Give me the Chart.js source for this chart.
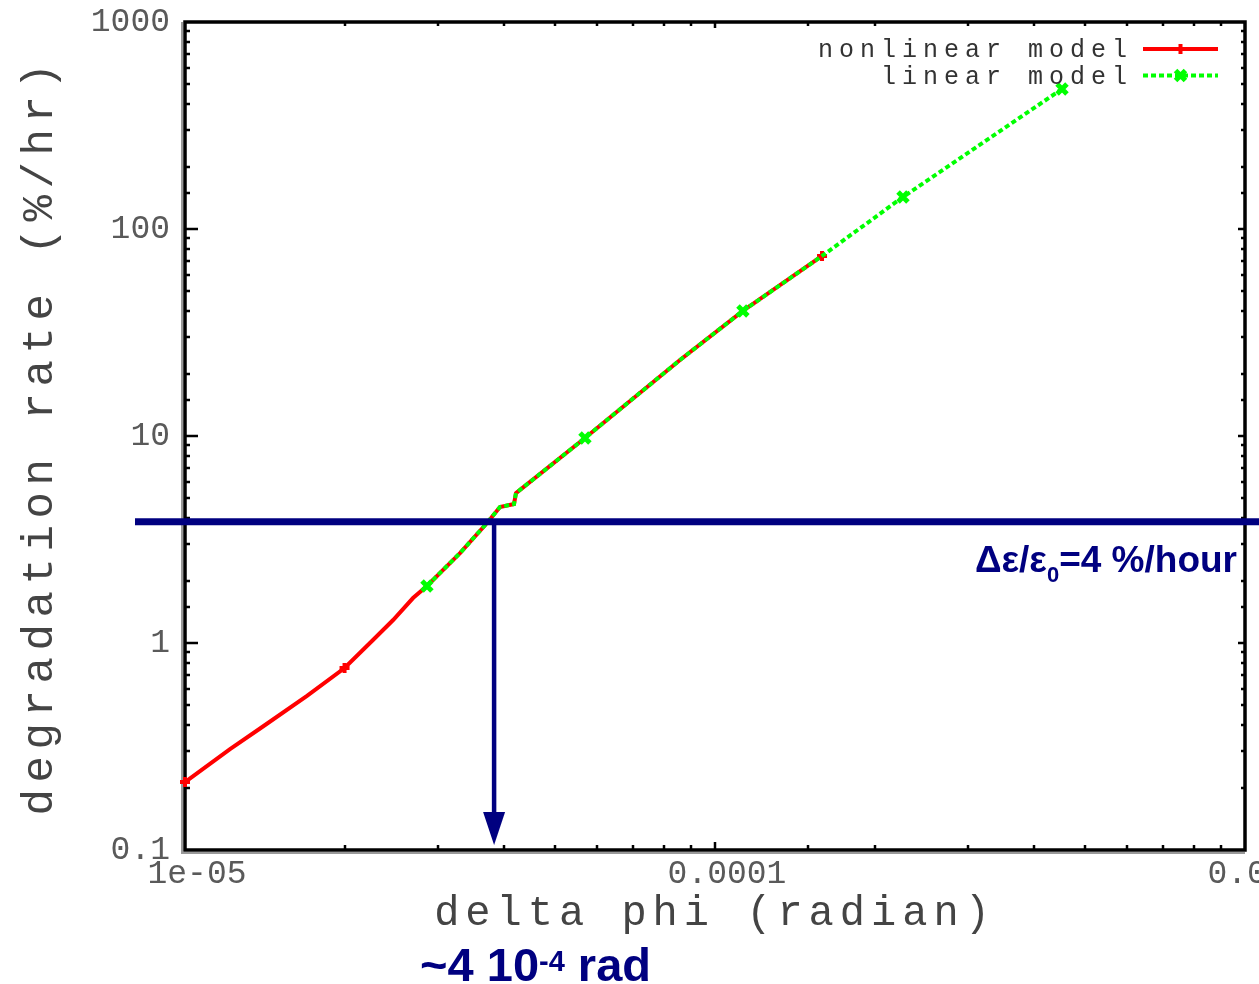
<!DOCTYPE html>
<html>
<head>
<meta charset="utf-8">
<script src="https://cdn.jsdelivr.net/npm/chart.js@4/dist/chart.umd.min.js"></script>
<style>
  html, body { margin: 0; padding: 0; background: #fff; }
  #wrap { width: 1259px; height: 984px; }
</style>
</head>
<body>
<div id="wrap"><canvas id="c" width="1259" height="984"></canvas></div>
<script>
// ---------- data ----------
const NONLINEAR_LABEL = 'nonlinear model';
const NONLINEAR_X = [1.0e-5, 1.216e-5, 1.403e-5, 1.699e-5, 2.0e-5, 2.263e-5, 2.47e-5, 2.693e-5, 2.861e-5,
                     3.303e-5, 3.714e-5, 3.929e-5, 4.176e-5, 4.212e-5, 5.684e-5, 8.59e-5, 1.129e-4, 1.592e-4];
const NONLINEAR_Y = [0.213, 0.307, 0.395, 0.555, 0.757, 1.034, 1.291, 1.649, 1.886,
                     2.72, 3.80, 4.54, 4.69, 5.30, 9.78, 23.3, 40.2, 74.1];
const NONLINEAR_MARKER_X = [1.0e-5, 2.0e-5, 1.592e-4];

const LINEAR_LABEL = 'linear model';
const LINEAR_X = [2.861e-5, 3.303e-5, 3.714e-5, 3.929e-5, 4.176e-5, 4.212e-5, 5.684e-5, 8.59e-5, 1.129e-4,
                  1.592e-4, 2.263e-4, 4.516e-4];
const LINEAR_Y = [1.886, 2.72, 3.80, 4.54, 4.69, 5.30, 9.78, 23.3, 40.2, 74.1, 142.8, 474.6];
const LINEAR_MARKER_X = [2.861e-5, 5.684e-5, 1.129e-4, 2.263e-4, 4.516e-4];

const X_TICK_VALUES = [1e-5, 1e-4, 1e-3];
const X_TICK_LABELS = ['1e-05', '0.0001', '0.001'];
const Y_TICK_VALUES = [0.1, 1, 10, 100, 1000];
const Y_TICK_LABELS = ['0.1', '1', '10', '100', '1000'];

const X_TITLE = 'delta phi (radian)';
const Y_TITLE = 'degradation rate (%/hr)';

const THRESHOLD_Y = 3.85;          // horizontal navy line (4 %/hour)
const ARROW_X = 3.83e-5;           // vertical navy arrow
const THRESHOLD_TEXT = ['Δε/ε', '0', '=4 %/hour'];
const ARROW_TEXT = ['~4 10', '-4', ' rad'];

// ---------- helpers ----------
const toPoints = (xs, ys) => xs.map((x, i) => ({ x: x, y: ys[i] }));
const sameVal = (a, b) => Math.abs(Math.log10(a) - Math.log10(b)) < 1e-6;
const isMarker = (list) => (ctx) => {
  const p = ctx.raw; if (!p) return false;
  return list.some(v => sameVal(v, p.x));
};
const isMajor = v => Math.abs(Math.log10(v) - Math.round(Math.log10(v))) < 1e-9;
const labelFor = (vals, labels) => (v) => {
  const i = vals.findIndex(t => sameVal(t, v));
  return i >= 0 ? labels[i] : '';
};

const NAVY = '#000080';

const overlay = {
  id: 'overlay',
  beforeDraw(chart) {
    const sp = { x: '6px', y: '6.6px' };
    ['x', 'y'].forEach(k => {
      const s = chart.scales[k];
      if (s && !s._lsWrapped) {
        const orig = s.drawTitle;
        s.drawTitle = function () {
          const c = this.ctx; c.save(); c.letterSpacing = sp[k]; orig.call(this); c.restore();
        };
        s._lsWrapped = true;
      }
    });
  },
  beforeDatasetsDraw(chart) {
    const ctx = chart.ctx, a = chart.chartArea, xs = chart.scales.x, ys = chart.scales.y;
    ctx.save();
    // gray fringe on left / bottom
    ctx.strokeStyle = '#999'; ctx.lineWidth = 2;
    ctx.beginPath();
    ctx.moveTo(a.left - 3, a.top); ctx.lineTo(a.left - 3, a.bottom + 3); ctx.lineTo(a.right, a.bottom + 3);
    ctx.stroke();
    // frame
    ctx.strokeStyle = '#000'; ctx.lineWidth = 3.5;
    ctx.strokeRect(a.left, a.top, a.right - a.left, a.bottom - a.top);
    // inward ticks
    ctx.lineWidth = 2.5;
    ctx.beginPath();
    xs.ticks.forEach(t => {
      const v = t.value; if (v <= xs.min * 1.0001 || v >= xs.max * 0.9999) return;
      const px = Math.round(xs.getPixelForValue(v));
      const maj = isMajor(v);
      ctx.moveTo(px, a.bottom); ctx.lineTo(px, a.bottom - (maj ? 8 : 5));
      ctx.moveTo(px, a.top); ctx.lineTo(px, a.top + (maj ? 6 : 4));
    });
    ys.ticks.forEach(t => {
      const v = t.value; if (v <= ys.min * 1.0001 || v >= ys.max * 0.9999) return;
      const py = Math.round(ys.getPixelForValue(v));
      const maj = isMajor(v);
      ctx.moveTo(a.left, py); ctx.lineTo(a.left + (maj ? 13 : 5), py);
      ctx.moveTo(a.right, py); ctx.lineTo(a.right - (maj ? 7 : 4), py);
    });
    ctx.stroke();
    ctx.restore();
  },
  afterDatasetsDraw(chart) {
    const ctx = chart.ctx, a = chart.chartArea, xs = chart.scales.x, ys = chart.scales.y;
    ctx.save();
    // ---- legend (inside plot, top-right) ----
    const rows = [0, 1].map(i => chart.data.datasets[i]);
    const lineX0 = a.right - 102, lineX1 = a.right - 27;
    const rowY = [a.top + 27, a.top + 53.5];
    rows.forEach((ds, i) => {
      const y = rowY[i];
      ctx.save();
      ctx.font = '25px "Liberation Mono"';
      ctx.letterSpacing = '6px';
      ctx.fillStyle = '#333';
      ctx.textAlign = 'right'; ctx.textBaseline = 'alphabetic';
      ctx.fillText(ds.label, lineX0 - 10, y + 8);
      ctx.restore();
      ctx.save();
      ctx.strokeStyle = ds.borderColor; ctx.lineWidth = ds.borderWidth;
      ctx.setLineDash(ds.borderDash || []);
      ctx.beginPath(); ctx.moveTo(lineX0, y); ctx.lineTo(lineX1, y); ctx.stroke();
      ctx.setLineDash([]);
      ctx.strokeStyle = ds.pointBorderColor; ctx.fillStyle = ds.pointBackgroundColor;
      ctx.lineWidth = ds.pointBorderWidth;
      Chart.helpers.drawPoint(ctx, { pointStyle: ds.pointStyle, radius: ds.markerRadius, borderWidth: ds.pointBorderWidth, rotation: 0 },
        (lineX0 + lineX1) / 2, y);
      ctx.restore();
    });

    // ---- navy threshold line ----
    const yT = ys.getPixelForValue(THRESHOLD_Y);
    ctx.strokeStyle = NAVY; ctx.lineWidth = 7;
    ctx.beginPath(); ctx.moveTo(a.left - 50, yT); ctx.lineTo(chart.width, yT); ctx.stroke();

    // ---- navy arrow ----
    const xA = xs.getPixelForValue(ARROW_X);
    const tipY = a.bottom - 5;
    ctx.lineWidth = 4.5;
    ctx.beginPath(); ctx.moveTo(xA, yT); ctx.lineTo(xA, tipY - 20); ctx.stroke();
    ctx.fillStyle = NAVY;
    ctx.beginPath(); ctx.moveTo(xA - 11, tipY - 33); ctx.lineTo(xA + 11, tipY - 33); ctx.lineTo(xA, tipY); ctx.closePath(); ctx.fill();

    // ---- threshold text ----
    const bigF = 'bold 37px "Liberation Sans"', subF = 'bold 22px "Liberation Sans"';
    ctx.textBaseline = 'alphabetic'; ctx.textAlign = 'left';
    ctx.font = bigF; const w1 = ctx.measureText(THRESHOLD_TEXT[0]).width, w3 = ctx.measureText(THRESHOLD_TEXT[2]).width;
    ctx.font = subF; const w2 = ctx.measureText(THRESHOLD_TEXT[1]).width;
    const baseT = yT + 50;
    let tx = a.right - 8 - (w1 + w2 + w3);
    ctx.font = bigF; ctx.fillText(THRESHOLD_TEXT[0], tx, baseT); tx += w1;
    ctx.font = subF; ctx.fillText(THRESHOLD_TEXT[1], tx, baseT + 10); tx += w2;
    ctx.font = bigF; ctx.fillText(THRESHOLD_TEXT[2], tx, baseT);

    // ---- arrow text ----
    const aF = 'bold 47px "Liberation Sans"', aS = 'bold 29px "Liberation Sans"';
    let ax = xA - 74; const aBase = 981;
    ctx.font = aF; ctx.fillText(ARROW_TEXT[0], ax, aBase); ax += ctx.measureText(ARROW_TEXT[0]).width;
    ctx.font = aS; ctx.fillText(ARROW_TEXT[1], ax, aBase - 10); ax += ctx.measureText(ARROW_TEXT[1]).width;
    ctx.font = aF; ctx.fillText(ARROW_TEXT[2], ax, aBase);
    ctx.restore();
  }
};

const tickFont = { family: 'Liberation Mono', size: 33 };

new Chart(document.getElementById('c'), {
  type: 'line',
  data: {
    datasets: [
      {
        label: NONLINEAR_LABEL,
        data: toPoints(NONLINEAR_X, NONLINEAR_Y),
        borderColor: '#ff0000', borderWidth: 4,
        pointStyle: 'cross', markerRadius: 5,
        pointRadius: (c) => isMarker(NONLINEAR_MARKER_X)(c) ? 5 : 0,
        pointBorderColor: '#ff0000', pointBackgroundColor: '#ff0000', pointBorderWidth: 4,
        tension: 0, order: 1, clip: 8
      },
      {
        label: LINEAR_LABEL,
        data: toPoints(LINEAR_X, LINEAR_Y),
        borderColor: '#00ff00', borderWidth: 4, borderDash: [5, 3],
        pointStyle: 'crossRot', markerRadius: 7,
        pointRadius: (c) => isMarker(LINEAR_MARKER_X)(c) ? 7 : 0,
        pointBorderColor: '#00ff00', pointBackgroundColor: '#00ff00', pointBorderWidth: 5,
        tension: 0, order: 0, clip: 8
      }
    ]
  },
  options: {
    responsive: false,
    animation: false,
    devicePixelRatio: 1,
    layout: { padding: { top: 22, right: 14, left: 0, bottom: 0 } },
    plugins: { legend: { display: false }, tooltip: { enabled: false } },
    scales: {
      x: {
        type: 'logarithmic', min: 1e-5, max: 1e-3,
        grid: { display: false, drawTicks: false },
        border: { display: false },
        ticks: { autoSkip: false, maxRotation: 0, padding: 4, labelOffset: 12, color: '#5a5a5a', font: tickFont,
                 callback: labelFor(X_TICK_VALUES, X_TICK_LABELS) },
        title: { display: true, text: X_TITLE, color: '#444', font: { family: 'Liberation Mono', size: 42 },
                 padding: { top: 0, bottom: 45 } },
        afterFit(s) { s.height = 134; s.paddingLeft = 0; s.paddingRight = 0; }
      },
      y: {
        type: 'logarithmic', min: 0.1, max: 1000,
        grid: { display: false, drawTicks: false },
        border: { display: false },
        ticks: { autoSkip: false, padding: 15, color: '#5a5a5a', font: tickFont,
                 callback: labelFor(Y_TICK_VALUES, Y_TICK_LABELS) },
        title: { display: true, text: Y_TITLE, color: '#444', font: { family: 'Liberation Mono', size: 44 },
                 padding: { top: 14, bottom: 0 } },
        afterFit(s) { s.width = 185; s.paddingTop = 0; s.paddingBottom = 0; }
      }
    }
  },
  plugins: [overlay]
});
</script>
</body>
</html>
